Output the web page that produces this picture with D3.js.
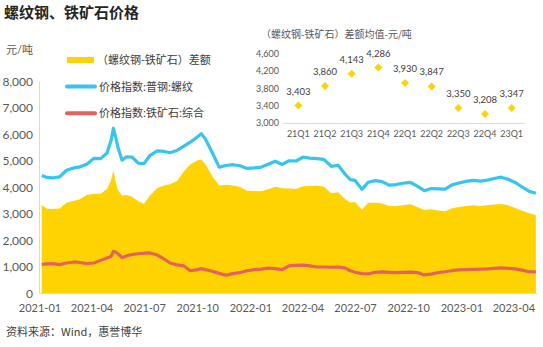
<!DOCTYPE html>
<html>
<head>
<meta charset="utf-8">
<script src="https://cdn.jsdelivr.net/npm/d3@7"></script>
<style>
  body { margin: 0; background: #fff; }
  text { font-family: Lato, "Noto Sans CJK SC", sans-serif; }
</style>
</head>
<body>
<div id="chart"></div>
<script>
// Dates for the daily series (sampled)
const dates = ['2021-01-04','2021-01-13','2021-01-22','2021-02-04','2021-02-16','2021-03-01','2021-03-11','2021-03-23','2021-04-04','2021-04-16',
  '2021-04-27','2021-05-04','2021-05-08','2021-05-12','2021-05-16','2021-05-23','2021-05-31','2021-06-09','2021-06-20','2021-06-30',
  '2021-07-10','2021-07-23','2021-08-04','2021-08-14','2021-08-26','2021-09-07','2021-09-18','2021-09-30','2021-10-07','2021-10-14',
  '2021-10-26','2021-11-07','2021-11-19','2021-12-01','2021-12-13','2021-12-25','2022-01-07','2022-01-19','2022-01-31','2022-02-12',
  '2022-02-24','2022-03-08','2022-03-20','2022-04-01','2022-04-13','2022-04-25','2022-05-07','2022-05-20','2022-06-01','2022-06-13',
  '2022-06-22','2022-06-30','2022-07-12','2022-07-23','2022-08-04','2022-08-16','2022-08-28','2022-09-09','2022-09-21','2022-10-04',
  '2022-10-16','2022-10-28','2022-11-09','2022-11-21','2022-12-03','2022-12-15','2022-12-27','2023-01-08','2023-01-21','2023-02-02',
  '2023-02-14','2023-02-26','2023-03-10','2023-03-22','2023-04-03','2023-04-15','2023-04-27','2023-05-09'];

// 价格指数:普钢:螺纹
const rebar = [4450,4380,4360,4400,4650,4740,4780,4880,5100,5090,
  5300,5780,6230,5900,5500,5030,5160,5150,4920,4900,
  5200,5380,5360,5310,5400,5560,5710,5900,6030,5840,
  5320,4770,4830,4860,4820,4720,4740,4770,4880,4990,
  4870,5010,5000,5150,5110,5090,5060,4800,4840,4500,
  4300,4270,3930,4200,4260,4220,4090,4110,4160,4190,
  4050,3880,3960,3950,3940,4100,4170,4230,4270,4240,
  4280,4340,4390,4310,4190,4020,3860,3780];

// 价格指数:铁矿石:综合
const ore = [1100,1120,1130,1090,1150,1190,1170,1130,1150,1250,
  1340,1400,1590,1560,1500,1350,1420,1470,1500,1520,
  1530,1450,1300,1150,1080,1040,860,900,940,900,
  840,760,690,750,790,860,900,920,960,940,
  900,1040,1060,1070,1040,1000,1000,990,1000,960,
  860,800,750,740,800,815,800,790,800,810,
  790,700,730,790,820,860,890,900,910,920,
  930,950,965,950,930,880,820,815];

// （螺纹钢-铁矿石）差额
const spread = [3340,3200,3190,3210,3420,3500,3560,3720,3760,3760,
  3940,4270,4650,4200,3900,3690,3720,3650,3480,3390,
  3690,3980,4080,4120,4250,4600,4870,5020,5060,4880,
  4420,4080,4100,4080,4020,3880,3870,3860,3930,4030,
  3970,3960,3940,4050,4060,4070,4040,3780,3820,3560,
  3430,3450,3160,3420,3420,3400,3300,3290,3330,3370,
  3260,3150,3180,3130,3100,3220,3260,3300,3330,3300,
  3330,3360,3380,3330,3230,3120,3030,2960];

const xTickLabels = ['2021-01','2021-04','2021-07','2021-10','2022-01','2022-04','2022-07','2022-10','2023-01','2023-04'];
const yTicks = [0,1000,2000,3000,4000,5000,6000,7000,8000];

// Inset: quarterly averages of the spread
const quarters = ['21Q1','21Q2','21Q3','21Q4','22Q1','22Q2','22Q3','22Q4','23Q1'];
const quarterAvg = [3403,3860,4143,4286,3930,3847,3350,3208,3347];
const insetTicks = [3000,3400,3800,4200,4600];

// Colors
const yellow = '#FFD300';
const blue = '#33C5F3';
const red = '#E8605E';
const textGray = '#595959';

const width = 543, height = 347;
const svg = d3.select('#chart').append('svg')
  .attr('width', width)
  .attr('height', height);

const parse = d3.timeParse('%Y-%m-%d');
const data = dates.map((d, i) => ({ date: parse(d), rebar: rebar[i], ore: ore[i], spread: spread[i] }));

// Main scales
const xScale = d3.scaleTime()
  .domain([new Date(2021, 0, 1), new Date(2023, 4, 11)])
  .range([40, 537]);
const yScale = d3.scaleLinear()
  .domain([0, 8000])
  .range([293.5, 81.5]);

// Title
svg.append('text')
  .attr('x', 4).attr('y', 18)
  .style('font-size', '15px').style('font-weight', 'bold')
  .style('font-family', '"Noto Sans CJK SC", sans-serif')
  .attr('fill', '#262626')
  .text('螺纹钢、铁矿石价格');

// Unit label
svg.append('text')
  .attr('x', 6).attr('y', 54)
  .style('font-size', '11px').attr('fill', textGray)
  .text('元/吨');

// Spread area
svg.append('path')
  .datum(data)
  .attr('fill', yellow)
  .attr('d', d3.area()
    .x(d => xScale(d.date))
    .y0(yScale(0))
    .y1(d => yScale(d.spread)));

// Price lines
const line = key => d3.line().x(d => xScale(d.date)).y(d => yScale(d[key]));
svg.append('path').datum(data)
  .attr('fill', 'none').attr('stroke', red).attr('stroke-width', 3.2)
  .attr('stroke-linejoin', 'round')
  .attr('d', line('ore'));
svg.append('path').datum(data)
  .attr('fill', 'none').attr('stroke', blue).attr('stroke-width', 3.2)
  .attr('stroke-linejoin', 'round')
  .attr('d', line('rebar'));

// Axes lines
svg.append('line')
  .attr('x1', 39.5).attr('x2', 39.5)
  .attr('y1', yScale(8000)).attr('y2', yScale(0))
  .attr('stroke', '#D9D9D9');
svg.append('line')
  .attr('x1', 39.5).attr('x2', 537)
  .attr('y1', yScale(0)).attr('y2', yScale(0))
  .attr('stroke', '#D9D9D9');

// Y tick labels
svg.selectAll('.ylab')
  .data(yTicks)
  .enter().append('text')
  .attr('class', 'ylab')
  .attr('x', 33)
  .attr('y', d => yScale(d))
  .attr('dy', '0.35em')
  .attr('text-anchor', 'end')
  .style('font-size', '12px').attr('fill', textGray)
  .text(d => d3.format(',')(d));

// X tick labels
svg.selectAll('.xlab')
  .data(xTickLabels)
  .enter().append('text')
  .attr('class', 'xlab')
  .attr('x', d => xScale(d3.timeParse('%Y-%m')(d)))
  .attr('y', 312)
  .attr('text-anchor', 'middle')
  .style('font-size', '11px').attr('fill', textGray)
  .text(d => d);

// Legend
const legend = [
  { label: '（螺纹钢-铁矿石）差额', color: yellow, w: 6, cap: 'butt', x1: 67, x2: 94 },
  { label: '价格指数:普钢:螺纹', color: blue, w: 4, cap: 'round', x1: 67, x2: 95 },
  { label: '价格指数:铁矿石:综合', color: red, w: 4, cap: 'round', x1: 67, x2: 95 }
];
const lg = svg.selectAll('.legend')
  .data(legend)
  .enter().append('g')
  .attr('class', 'legend')
  .attr('transform', (d, i) => `translate(0, ${60 + i * 26.6})`);
lg.append('line')
  .attr('x1', d => d.x1).attr('x2', d => d.x2)
  .attr('stroke', d => d.color)
  .attr('stroke-width', d => d.w)
  .attr('stroke-linecap', d => d.cap);
lg.append('text')
  .attr('x', d => d.cap === 'butt' ? 97 : 99)
  .attr('dy', '0.36em')
  .style('font-size', '11px').attr('fill', '#404040')
  .style('font-family', '"Noto Sans CJK SC", sans-serif')
  .text(d => d.label);

// ---- Inset chart ----
const inset = svg.append('g');
inset.append('text')
  .attr('x', 261).attr('y', 38)
  .style('font-size', '10px').attr('fill', textGray)
  .style('font-family', '"Noto Sans CJK SC", sans-serif')
  .text('（螺纹钢-铁矿石）差额均值-元/吨');

const qx = d3.scaleBand()
  .domain(quarters)
  .range([285, 525]);
const qy = d3.scaleLinear()
  .domain([3000, 4600])
  .range([123, 54]);

inset.append('line')
  .attr('x1', 283).attr('x2', 525)
  .attr('y1', qy(3000) + 0.5).attr('y2', qy(3000) + 0.5)
  .attr('stroke', '#D9D9D9');

inset.selectAll('.qylab')
  .data(insetTicks)
  .enter().append('text')
  .attr('class', 'qylab')
  .attr('x', 279)
  .attr('y', d => qy(d))
  .attr('dy', '0.35em')
  .attr('text-anchor', 'end')
  .style('font-size', '9px').attr('fill', textGray)
  .text(d => d3.format(',')(d));

inset.selectAll('.qxlab')
  .data(quarters)
  .enter().append('text')
  .attr('class', 'qxlab')
  .attr('x', d => qx(d) + qx.bandwidth() / 2)
  .attr('y', 137)
  .attr('text-anchor', 'middle')
  .style('font-size', '9px').attr('fill', textGray)
  .text(d => d);

const r = 4;
inset.selectAll('.diamond')
  .data(quarterAvg)
  .enter().append('path')
  .attr('class', 'diamond')
  .attr('transform', (d, i) => `translate(${qx(quarters[i]) + qx.bandwidth() / 2}, ${qy(d)})`)
  .attr('d', `M0,${-r}L${r},0L0,${r}L${-r},0Z`)
  .attr('fill', yellow);

inset.selectAll('.qval')
  .data(quarterAvg)
  .enter().append('text')
  .attr('class', 'qval')
  .attr('x', (d, i) => qx(quarters[i]) + qx.bandwidth() / 2)
  .attr('y', d => qy(d) - 11)
  .attr('text-anchor', 'middle')
  .style('font-size', '9.5px').attr('fill', '#404040')
  .text(d => d3.format(',')(d));

// Source
svg.append('text')
  .attr('x', 6).attr('y', 335.5)
  .style('font-size', '11px').attr('fill', '#404040')
  .style('font-family', '"Noto Sans CJK SC", sans-serif')
  .text('资料来源：Wind，惠誉博华');
</script>
</body>
</html>
